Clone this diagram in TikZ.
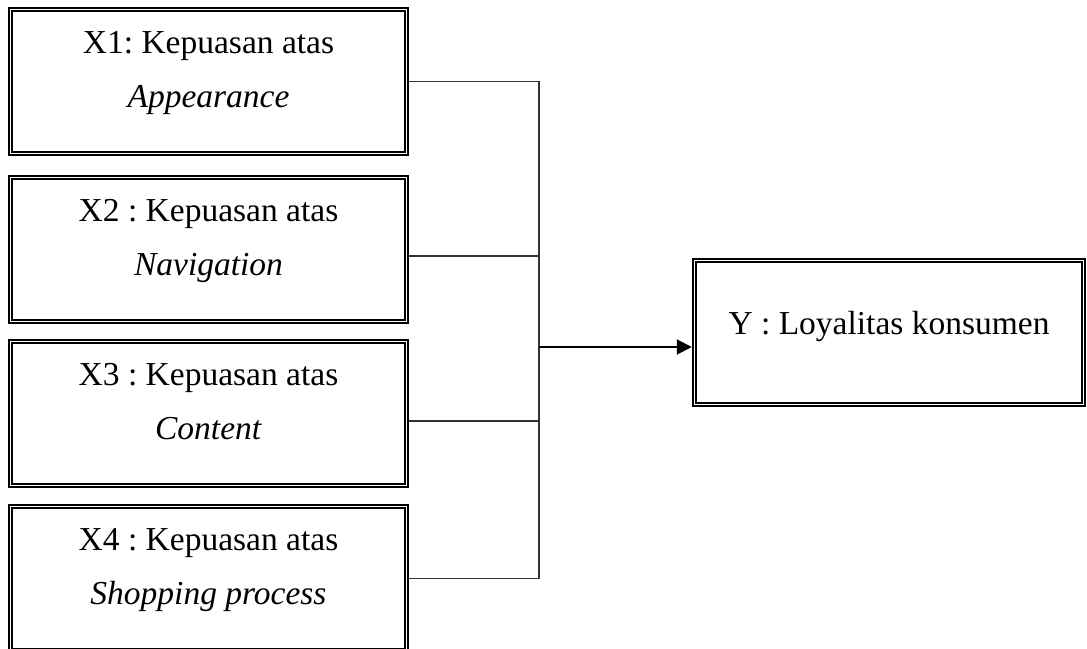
\documentclass[tikz,border=0pt]{standalone}
\usepackage{fontspec}
\setmainfont{Liberation Serif}
\usetikzlibrary{arrows.meta}
\frenchspacing

\begin{document}
\begin{tikzpicture}[x=1pt, y=-1pt,
		varbox/.style={draw, line width=2.5pt, minimum width=399pt, minimum height=147pt, inner sep=0pt, align=center, font=\fontsize{33.5}{54}\selectfont, text height=78pt, text depth=27pt},
		ybox/.style={varbox, minimum width=392pt, text height=24pt, text depth=21pt},
		link/.style={draw=black!80, line width=1.2pt}]
			\useasboundingbox (0, 0) rectangle (1087, 648);

			\node[varbox] 	(x1) 	at (208.5, 81.5) 	{X1: Kepuasan atas\\\textit{Appearance}};
			\node[varbox] 	(x2) 	at (208.5, 249.5) 	{X2 : Kepuasan atas\\\textit{Navigation}};
			\node[varbox] 	(x3) 	at (208.5, 413.5) 	{X3 : Kepuasan atas\\\textit{Content}};
			\node[varbox] 	(x4) 	at (208.5, 578.5) 	{X4 : Kepuasan atas\\\textit{Shopping process}};
			\node[ybox] 	(y) 	at (889, 332.5) 	{Y : Loyalitas konsumen};

			% inner thin frame
			\foreach \n in {x1, x2, x3, x4, y}
				\draw[line width=1.2pt] ([shift={(4.2, 4.2)}]\n.north west) rectangle ([shift={(-4.2, -4.2)}]\n.south east);

			\coordinate (bus) at (539, 347);
			\coordinate (x2out) at ([yshift=-6.5pt]x2.east);
			\coordinate (x3out) at ([yshift=-7.5pt]x3.east);

			\draw[link] (x1.east) -- (x1.east -| bus) -- (bus |- x4.east) -- (x4.east);
			\draw[link] (x2out) -- (x2out -| bus);
			\draw[link] (x3out) -- (x3out -| bus);
			\draw[line width=2pt, -{Triangle[length=15pt, width=15pt]}] (bus) -- (bus -| y.west);
		\end{tikzpicture}
\end{document}
